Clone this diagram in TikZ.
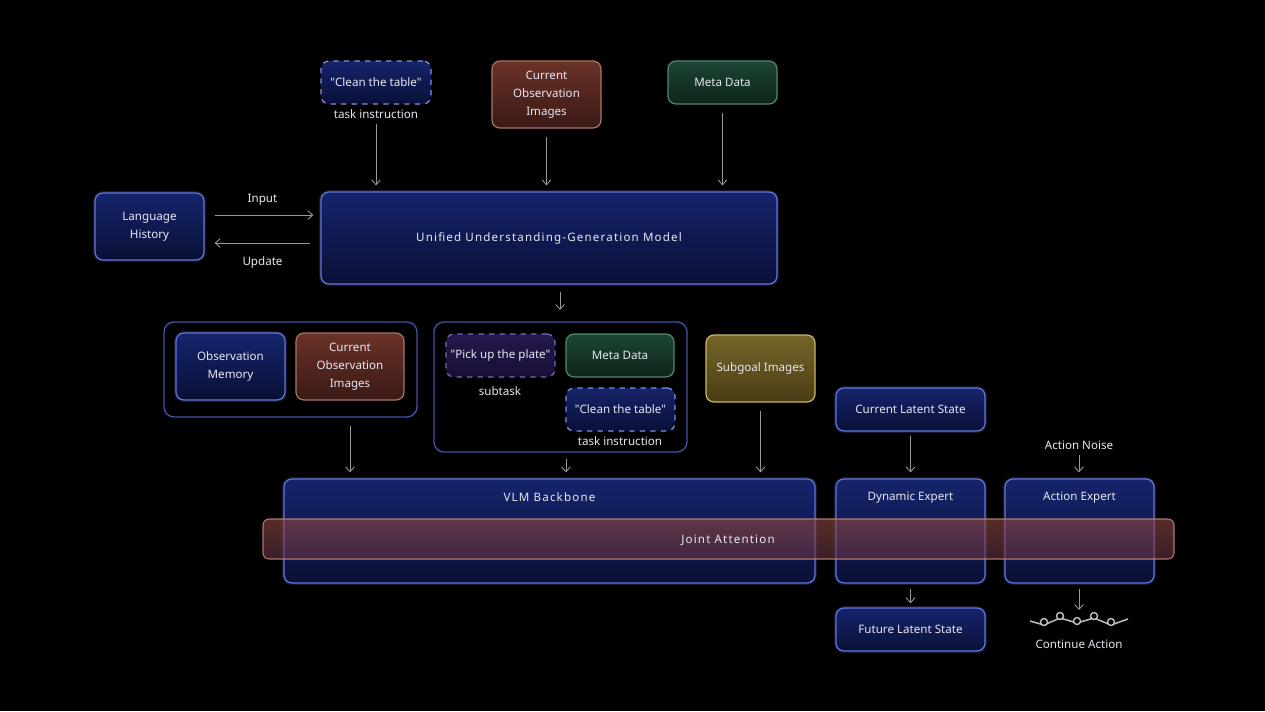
\documentclass[tikz,border=0pt]{standalone}
\usepackage{fontspec}
\setmainfont{Noto Sans}[Ligatures=TeXOff]
\newfontfamily\spacedfont[LetterSpace=10,Ligatures=TeXOff]{Noto Sans}
\usetikzlibrary{arrows.meta,positioning,calc}

\definecolor{bgblack}{RGB}{0, 0, 0}
\definecolor{txtwhite}{RGB}{230, 232, 240}
\definecolor{arrowgray}{RGB}{150, 150, 155}
\definecolor{blueedge}{RGB}{100, 118, 220}
\definecolor{bluetop}{RGB}{22, 36, 108}
\definecolor{bluebot}{RGB}{9, 16, 54}
\definecolor{brownedge}{RGB}{168, 117, 101}
\definecolor{browntop}{RGB}{106, 50, 40}
\definecolor{brownbot}{RGB}{58, 25, 21}
\definecolor{greenedge}{RGB}{79, 138, 112}
\definecolor{greentop}{RGB}{29, 68, 52}
\definecolor{greenbot}{RGB}{14, 38, 25}
\definecolor{goldedge}{RGB}{200, 184, 104}
\definecolor{goldtop}{RGB}{117, 101, 42}
\definecolor{goldbot}{RGB}{74, 60, 20}
\definecolor{purpleedge}{RGB}{122, 106, 184}
\definecolor{purpletop}{RGB}{38, 24, 76}
\definecolor{purplebot}{RGB}{24, 15, 53}
\definecolor{groupedge}{RGB}{66, 80, 160}
\definecolor{jointedge}{RGB}{190, 130, 115}
\definecolor{jointtop}{RGB}{145, 72, 62}
\definecolor{jointbot}{RGB}{95, 50, 70}

\begin{document}
\begin{tikzpicture}[
    x=0.02cm, y=-0.02cm,
    font=\fontsize{6.6}{10.2}\selectfont,
    every node/.style={text=txtwhite, align=center, inner sep=0pt},
    boxsize/.style 2 args={minimum width=#1*0.02cm, minimum height=#2*0.02cm},
    card/.style={rounded corners=1.6mm, line width=0.7pt},
    bluecard/.style={card, draw=blueedge, top color=bluetop, bottom color=bluebot,
      preaction={draw=blueedge, line width=2.2pt, draw opacity=0.2}},
    browncard/.style={card, draw=brownedge, top color=browntop, bottom color=brownbot},
    greencard/.style={card, draw=greenedge, top color=greentop, bottom color=greenbot},
    goldcard/.style={card, draw=goldedge, top color=goldtop, bottom color=goldbot},
    dashblue/.style={card, dashed, draw=blueedge!80!white, top color=bluetop, bottom color=bluebot},
    dashpurple/.style={card, dashed, draw=purpleedge, top color=purpletop, bottom color=purplebot},
    groupbox/.style={rounded corners=2mm, line width=0.8pt, draw=groupedge, fill=black},
    arr/.style={draw=arrowgray, line width=0.5pt, -{Straight Barb[length=2.8pt, width=5pt]}},
  ]
    % background and page size
    \fill[bgblack] (0,0) rectangle (1265,711);
    \useasboundingbox (0,0) rectangle (1265,711);

    % === Top row: inputs of the unified model ===
    \node[dashblue, boxsize={110}{43}] (tinst) at (376,82.5) {"Clean the table"};
    \node (tinstlbl) at (376,114) {task instruction};
    \node[browncard, boxsize={109}{67}] (curobs) at (546.5,94.5) {Current\\Observation\\Images};
    \node[greencard, boxsize={109}{43}] (meta) at (722.5,82.5) {Meta Data};

    % unified model and language history
    \node[bluecard, boxsize={456}{92}] (model) at (549,238) {\spacedfont Unified Understanding-Generation Model};
    \node[bluecard, boxsize={109}{67}] (hist) at (149.5,226.5) {Language\\History};

    \draw[arr, shorten <=2.8pt, shorten >=3.4pt] (tinstlbl.south) -- (tinstlbl.south |- model.north);
    \draw[arr, shorten <=4.5pt, shorten >=3.4pt] (curobs.south) -- (curobs.south |- model.north);
    \draw[arr, shorten <=5pt, shorten >=3.4pt] (meta.south) -- (meta.south |- model.north);

    \draw[arr, shorten <=5.7pt, shorten >=4pt] ([yshift=6.5pt]hist.east) -- ([yshift=6.5pt]hist.east -| model.west)
      node[midway, yshift=8.5pt] (inlbl) {Input};
    \draw[arr, shorten <=5.7pt, shorten >=5.7pt] ([yshift=-9.4pt]hist.east -| model.west) -- ([yshift=-9.4pt]hist.east)
      node[midway, yshift=-10.8pt] (uplbl) {Update};

    \coordinate (modelout) at (560,310);
    \draw[arr, shorten <=4pt] (model.south -| modelout) -- (modelout);

    % === Middle row: grouped inputs of the backbone ===
    \node[groupbox, boxsize={253}{95}] (grpobs) at (290.5,369.5) {};
    \node[bluecard, boxsize={109}{67}] (obsmem) at (230.5,366.5) {Observation\\Memory};
    \node[browncard, boxsize={108}{67}] (curobsb) at (350,366.5) {Current\\Observation\\Images};

    \node[groupbox, boxsize={253}{130}] (grptask) at (560.5,387) {};
    \node[dashpurple, boxsize={109}{43}] (subtask) at (500.5,355.5) {"Pick up the plate"};
    \node (subtasklbl) at (500,391) {subtask};
    \node[greencard, boxsize={108}{43}] (metab) at (620,355.5) {Meta Data};
    \node[dashblue, boxsize={109}{43}] (tinstb) at (620.5,409.5) {"Clean the table"};
    \node (tinstblbl) at (620,441) {task instruction};

    \node[goldcard, boxsize={109}{67}] (subgoal) at (760.5,368.5) {Subgoal Images};

    \node[bluecard, boxsize={149}{43}] (curlat) at (910.5,409.5) {Current Latent State};
    \node (noise) at (1079,445) {Action Noise};

    % === Bottom row: backbone and experts ===
    \node[bluecard, boxsize={531}{104}] (vlm) at (549.5,531) {};
    \node[bluecard, boxsize={149}{104}] (dyn) at (910.5,531) {};
    \node[bluecard, boxsize={149}{104}] (act) at (1079.5,531) {};

    % joint attention bar across all three
    \node[rounded corners=1.2mm, line width=0.6pt, draw=jointedge, top color=jointtop, bottom color=jointbot,
      fill opacity=0.62, draw opacity=0.9, boxsize={911}{40}] (joint) at (718.5,539) {};
    \node (jointtxt) at (728,540) {\spacedfont Joint Attention};

    \node (vlmtxt) at ([yshift=-10.8pt]vlm.north) {\spacedfont VLM Backbone};
    \node (dyntxt) at ([yshift=-10.8pt]dyn.north) {Dynamic Expert};
    \node (acttxt) at ([yshift=-10.8pt]act.north) {Action Expert};

    \node[bluecard, boxsize={149}{43}] (futlat) at (910.5,629.5) {Future Latent State};

    \draw[arr, shorten <=4.5pt, shorten >=3.4pt] (curobsb.south |- grpobs.south) -- (curobsb.south |- vlm.north);
    \draw[arr, shorten <=3.4pt, shorten >=3.4pt] ([xshift=3.1pt]grptask.south) -- ([xshift=3.1pt]grptask.south |- vlm.north);
    \draw[arr, shorten <=4.5pt, shorten >=3.4pt] (subgoal.south) -- (subgoal.south |- vlm.north);
    \draw[arr, shorten <=2.3pt, shorten >=3.4pt] (curlat.south) -- (dyn.north);
    \draw[arr, shorten <=3pt, shorten >=3.4pt] (noise.south) -- (noise.south |- act.north);
    \draw[arr, shorten <=2.8pt, shorten >=2.3pt] (dyn.south) -- (futlat.north);

    % continue action trajectory
    \coordinate (wave) at (1079,610);
    \draw[arr, shorten <=2.8pt] (act.south -| wave) -- (wave);
    \draw[arrowgray!70!white, line width=0.9pt, line join=round]
      (1030,621) -- (1044,625) -- (1060,618) -- (1077,623) -- (1094,618) -- (1111,625) -- (1128,619);
    \foreach \cx/\cy in {1044/622, 1060/616, 1077/621, 1094/616, 1111/622} {
      \draw[arrowgray!60!white, fill=black, line width=0.8pt] (\cx,\cy) circle[radius=3.5];
    }
    \node (contlbl) at (1079,644) {Continue Action};
  \end{tikzpicture}
\end{document}
